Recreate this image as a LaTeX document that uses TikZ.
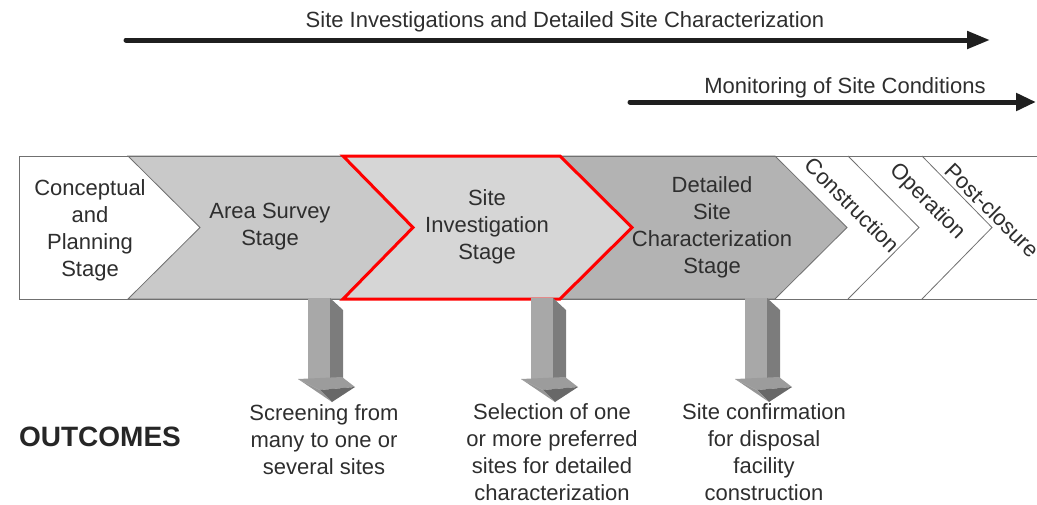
\documentclass[tikz,border=0pt]{standalone}
\usepackage{fontspec}
\setmainfont{Liberation Sans}
\usetikzlibrary{arrows.meta,positioning,calc}

\definecolor{areagray}{HTML}{C9C9C9}
\definecolor{sitegray}{HTML}{D6D6D6}
\definecolor{detgray}{HTML}{B3B3B3}
\definecolor{edgegray}{HTML}{707070}
\definecolor{txtgray}{HTML}{2E2E2E}
\definecolor{frontgray}{HTML}{A8A8A8}
\definecolor{sidegray}{HTML}{7C7C7C}
\definecolor{shouldergray}{HTML}{9C9C9C}
\definecolor{tipgray}{HTML}{686868}

\tikzset{
  outarrow/.pic={
    \fill[frontgray] (0,0) rectangle (22,81);
    \fill[sidegray] (22,0) -- (35,12) -- (35,84) -- (22,81) -- cycle;
    \fill[shouldergray] (-10,81) -- (34,79) -- (47,89) -- (12,92) -- cycle;
    \fill[tipgray] (12,92) -- (47,89) -- (24,104) -- cycle;
    \fill[sidegray!80] (-10,81) -- (12,92) -- (24,104) -- cycle;
  }
}

\begin{document}
\begin{tikzpicture}[x=1pt, y=-1pt,
  lbl/.style={align=center, font=\fontsize{22}{27}\selectfont, text=txtgray, inner sep=0pt},
  bar/.style={line width=5pt, draw=black!88, line cap=round},
  stage/.style={draw=edgegray, line width=0.8pt}]
  \useasboundingbox (0,0) rectangle (1037,504);

  % stage band
  \fill[white] (19,156) rectangle (1037,299);
  \filldraw[stage, fill=detgray] (560,156) -- (775,156) -- (847,227.5) -- (775,299) -- (560,299) -- (632,227.5) -- cycle;
  \filldraw[stage, fill=areagray] (128,156) -- (343,156) -- (413,227.5) -- (343,299) -- (128,299) -- (200,227.5) -- cycle;
  \draw[stage] (848,156) -- (919,227.5) -- (848,299);
  \draw[stage] (922,156) -- (992,227.5) -- (922,299);
  \draw[stage] (1037,156) -- (19,156) -- (19,299) -- (1037,299);
  \filldraw[fill=sitegray, draw=red, line width=3pt, line join=miter]
    (343,156) -- (560,156) -- (632,227.5) -- (560,299) -- (343,299) -- (413,227.5) -- cycle;

  \node[lbl] (concept) at (90,230) {Conceptual\\and\\Planning\\Stage};
  \node[lbl] (area) at (270,227) {Area Survey\\Stage};
  \node[lbl] (siteinv) at (487,227) {Site\\Investigation\\Stage};
  \node[lbl] (detail) at (712,227) {Detailed\\Site\\Characterization\\Stage};
  \node[lbl, rotate=-45] (constr) at (852,205) {Construction};
  \node[lbl, rotate=-45] (oper) at (927,202) {Operation};
  \node[lbl, rotate=-45] (postcl) at (992,210) {Post-closure};

  % top arrows
  \coordinate (sicA) at (126,40);
  \coordinate (sicB) at (990,40);
  \node[lbl] (sic) at (565,22) {Site Investigations and Detailed Site Characterization};
  \draw[bar, -{Triangle[length=23pt,width=17pt]}] (sicA) -- (sicB);
  \coordinate (monA) at (630,102);
  \coordinate (monB) at (1036,102);
  \node[lbl] (mon) at (845,88) {Monitoring of Site Conditions};
  \draw[bar, -{Triangle[length=20pt,width=17pt]}] (monA) -- (monB);

  % outcomes
  \foreach \ax in {308,531,745}
    \pic at (\ax,298) {outarrow};
  \node[lbl, font=\bfseries\fontsize{28}{32}\selectfont, text=black!85] (outc) at (100,437) {OUTCOMES};
  \node[lbl] (scr) at (324,440) {Screening from\\many to one or\\several sites};
  \node[lbl] (sel) at (552,452) {Selection of one\\or more preferred\\sites for detailed\\characterization};
  \node[lbl] (conf) at (764,452) {Site confirmation\\for disposal\\facility\\construction};
\end{tikzpicture}
\end{document}
